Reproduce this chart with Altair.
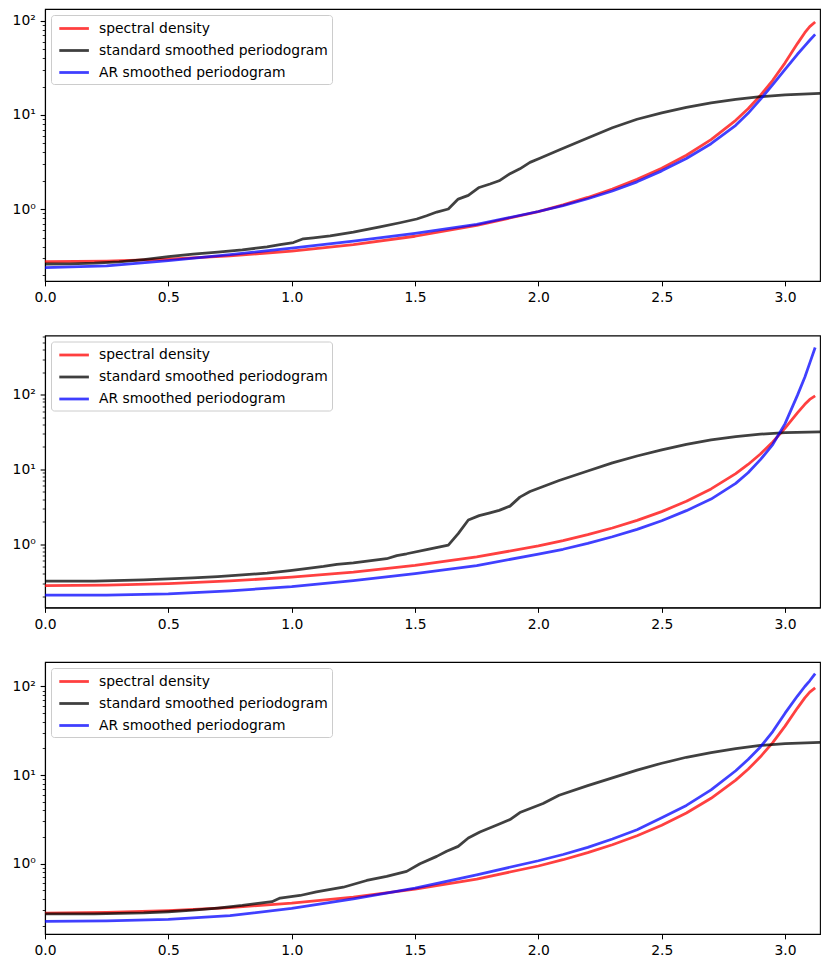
import altair as alt
import pandas as pd

SERIES = ["spectral density", "standard smoothed periodogram", "AR smoothed periodogram"]
COLORS = ["#ff0000", "#000000", "#0000ff"]

# frequency grid (radians) for the true spectral density and the AR-smoothed estimates
freq = [0.0, 0.25, 0.5, 0.75, 1.0, 1.25, 1.5, 1.75, 2.0, 2.1, 2.2, 2.3, 2.4, 2.5,
        2.6, 2.7, 2.8, 2.85, 2.9, 2.95, 3.0, 3.05, 3.08, 3.1, 3.122]
spectral_density = [0.277, 0.2814, 0.295, 0.3198, 0.3594, 0.4206, 0.5162, 0.6715, 0.9425,
                    1.1095, 1.332, 1.6375, 2.0717, 2.717, 3.737, 5.476, 8.77, 11.63, 16.08,
                    23.3, 35.7, 57.1, 74.5, 86.6, 96.7]

ar_1 = [0.240, 0.250, 0.284, 0.330, 0.386, 0.458, 0.553, 0.69, 0.945, 1.09, 1.29, 1.56,
        1.95, 2.55, 3.45, 4.95, 7.75, 10.4, 14.6, 21.0, 30.5, 44, 54, 62, 71.5]
ar_2 = [0.207, 0.207, 0.215, 0.236, 0.268, 0.322, 0.40, 0.515, 0.73, 0.85, 1.02, 1.25,
        1.57, 2.05, 2.8, 4.0, 6.5, 9.0, 13.5, 21.5, 41, 98, 172, 265, 430]
ar_3 = [0.224, 0.226, 0.236, 0.26, 0.313, 0.40, 0.53, 0.75, 1.08, 1.27, 1.53, 1.90,
        2.42, 3.3, 4.55, 6.8, 11.2, 15.0, 20.8, 31, 50, 78, 100, 116, 140]

# standard smoothed periodogram, panel 1
sm_x_1 = [0, 0.1, 0.2, 0.3, 0.4, 0.5, 0.6, 0.7, 0.8, 0.9, 0.953, 1.007, 1.047, 1.088, 1.156,
          1.25, 1.358, 1.439, 1.507, 1.547, 1.588, 1.635, 1.675, 1.716, 1.76, 1.804, 1.841,
          1.885, 1.925, 1.966, 2.006, 2.084, 2.2, 2.3, 2.4, 2.5, 2.6, 2.7, 2.8, 2.9, 3.0, 3.1416]
sm_1 = [0.262, 0.263, 0.267, 0.276, 0.292, 0.313, 0.333, 0.350, 0.370, 0.398, 0.42, 0.443,
        0.485, 0.497, 0.522, 0.572, 0.650, 0.718, 0.787, 0.852, 0.932, 1.005, 1.28, 1.40,
        1.70, 1.85, 2.0, 2.38, 2.68, 3.14, 3.47, 4.25, 5.7, 7.3, 9.0, 10.5, 12.0, 13.4,
        14.6, 15.6, 16.3, 16.9]

# panel 2
sm_x_2 = [0, 0.2, 0.4, 0.5, 0.6, 0.7, 0.8, 0.9, 0.993, 1.05, 1.129, 1.183, 1.25, 1.385,
          1.426, 1.466, 1.547, 1.635, 1.675, 1.716, 1.76, 1.80, 1.841, 1.885, 1.925, 1.966,
          2.084, 2.2, 2.3, 2.4, 2.5, 2.6, 2.7, 2.8, 2.9, 3.0, 3.1416]
sm_2 = [0.318, 0.318, 0.330, 0.340, 0.352, 0.366, 0.385, 0.408, 0.44, 0.465, 0.50, 0.535,
        0.56, 0.635, 0.70, 0.74, 0.84, 0.965, 1.38, 2.1, 2.4, 2.6, 2.82, 3.22, 4.25, 5.05,
        7.1, 9.5, 12.2, 15.1, 18.2, 21.6, 24.8, 27.5, 29.6, 31.0, 31.8]

# panel 3
sm_x_3 = [0, 0.2, 0.4, 0.5, 0.6, 0.7, 0.8, 0.92, 0.953, 1.034, 1.1, 1.209, 1.304, 1.385,
          1.466, 1.52, 1.588, 1.628, 1.675, 1.716, 1.763, 1.837, 1.885, 1.925, 2.019, 2.084,
          2.2, 2.3, 2.4, 2.5, 2.6, 2.7, 2.8, 2.9, 3.0, 3.1416]
sm_3 = [0.272, 0.272, 0.279, 0.287, 0.299, 0.316, 0.338, 0.373, 0.41, 0.438, 0.48, 0.543,
        0.647, 0.718, 0.819, 1.0, 1.21, 1.38, 1.57, 1.95, 2.28, 2.77, 3.15, 3.78, 4.78, 5.93,
        7.6, 9.3, 11.4, 13.6, 15.9, 17.9, 19.9, 21.6, 22.7, 23.4]

# y-axis limits of each panel (log scale)
y_limits = [[0.173, 133], [0.141, 622], [0.161, 189]]
x_ticks = [0.0, 0.5, 1.0, 1.5, 2.0, 2.5, 3.0]

PX = 100 / 72  # points -> pixels at 100 dpi
FONT = "DejaVu Sans"
FS = 10 * PX
MAJOR = "datum.value == 1 || datum.value == 10 || datum.value == 100"


def panel(sm_x, sm_y, ar_y, ydom):
    df_sd = pd.DataFrame({"x": freq, "y": spectral_density, "s": SERIES[0]})
    df_sm = pd.DataFrame({"x": sm_x, "y": sm_y, "s": SERIES[1]})
    df_ar = pd.DataFrame({"x": freq, "y": ar_y, "s": SERIES[2]})

    ticks = [m * 10.0 ** e for e in range(-1, 3) for m in range(1, 10)]
    ticks = [t for t in ticks if ydom[0] <= t <= ydom[1]]

    x_enc = alt.X(
        "x:Q",
        scale=alt.Scale(domain=[0, 3.141592653589793], nice=False, zero=False),
        axis=alt.Axis(values=x_ticks, format=".1f", title=None, grid=False,
                      tickSize=3.5 * PX, labelPadding=3.5 * PX, labelFlush=False,
                      labelOverlap=False),
    )
    y_enc = alt.Y(
        "y:Q",
        scale=alt.Scale(type="log", domain=ydom, nice=False),
        axis=alt.Axis(
            values=ticks, title=None, grid=False, labelOverlap=False,
            labelExpr="datum.value == 1 ? '10\u2070' : datum.value == 10 ? '10\u00b9' : datum.value == 100 ? '10\u00b2' : ''",
            tickSize={"condition": {"test": MAJOR, "value": 3.5 * PX}, "value": 2 * PX},
            tickWidth={"condition": {"test": MAJOR, "value": 0.8 * PX}, "value": 0.6 * PX},
            labelPadding=3.5 * PX,
        ),
    )
    c_enc = alt.Color(
        "s:N",
        scale=alt.Scale(domain=SERIES, range=COLORS),
        legend=alt.Legend(
            title=None, orient="top-left", offset=6, padding=4,
            strokeColor="#cccccc", fillColor="rgba(255,255,255,0.8)", cornerRadius=3,
            symbolType="M-0.65,0L3.05,0", symbolSize=256, symbolStrokeWidth=2 * PX,
            symbolOpacity=0.75, labelFont=FONT, labelFontSize=FS, labelColor="black",
            labelOffset=25, rowPadding=5, labelLimit=400,
        ),
    )

    def line(df):
        return alt.Chart(df).mark_line(
            strokeWidth=2 * PX, opacity=0.75, strokeJoin="round", clip=True
        ).encode(x=x_enc, y=y_enc, color=c_enc)

    return alt.layer(line(df_sd), line(df_sm), line(df_ar)).properties(width=775, height=272)


chart = alt.vconcat(
    panel(sm_x_1, sm_1, ar_1, y_limits[0]),
    panel(sm_x_2, sm_2, ar_2, y_limits[1]),
    panel(sm_x_3, sm_3, ar_3, y_limits[2]),
    spacing=54.5,
    bounds="flush",
).resolve_scale(y="independent", color="independent").resolve_legend(
    color="independent"
).properties(
    padding={"left": 11, "top": 8, "right": 5, "bottom": 5},
    background="white",
).configure_axis(
    labelFont=FONT, labelFontSize=FS, labelColor="black", tickColor="black",
    domainColor="black", domainWidth=0.8 * PX,
).configure_view(
    stroke="black", strokeWidth=0.8 * PX
).configure_legend(
    strokeWidth=1.0
)

chart.save("out.html", embed_options={"renderer": "svg", "actions": False})
